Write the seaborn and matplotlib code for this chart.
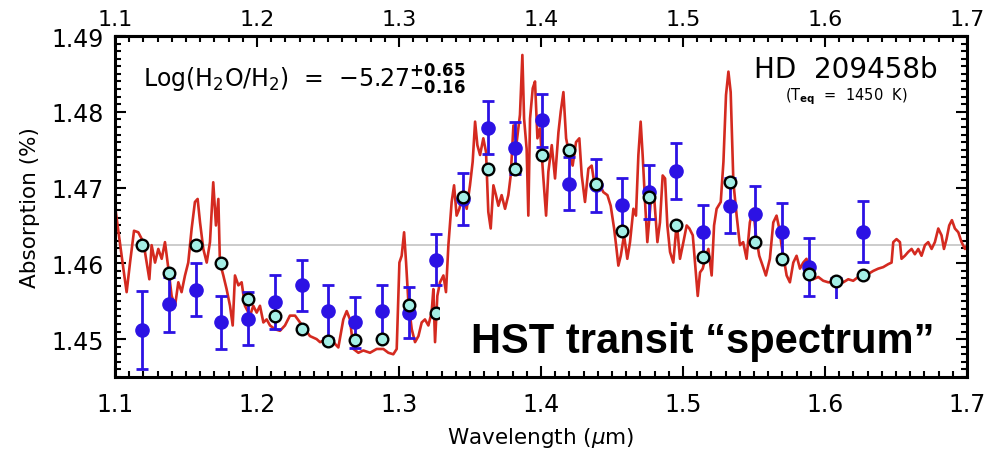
import matplotlib
matplotlib.use("Agg")
import matplotlib.pyplot as plt
from matplotlib.patches import Rectangle
from matplotlib.ticker import MultipleLocator, FixedLocator, FormatStrFormatter
import seaborn as sns

# binned HST points (wavelength in micron, absorption in %)
bin_wl = [1.119, 1.138, 1.157, 1.175, 1.194, 1.213, 1.232, 1.250, 1.269, 1.288,
          1.307, 1.326, 1.345, 1.363, 1.382, 1.401, 1.420, 1.439, 1.457, 1.476,
          1.495, 1.514, 1.533, 1.551, 1.570, 1.589, 1.608, 1.627]
hst_abs = [1.4512, 1.4546, 1.4565, 1.4522, 1.4527, 1.4549, 1.4571, 1.4537, 1.4522, 1.4537,
           1.4535, 1.4605, 1.4685, 1.4779, 1.4752, 1.4789, 1.4705, 1.4703, 1.4677, 1.4694,
           1.4722, 1.4641, 1.4676, 1.4665, 1.4642, 1.4595, 1.4543, 1.4642]
hst_err = [0.0051, 0.0036, 0.0035, 0.0035, 0.0035, 0.0035, 0.0034, 0.0035, 0.0034, 0.0035,
           0.0034, 0.0034, 0.0034, 0.0035, 0.0034, 0.0035, 0.0035, 0.0035, 0.0036, 0.0036,
           0.0037, 0.0036, 0.0036, 0.0037, 0.0037, 0.0038, 0.0037, 0.0040]
model_binned = [1.4624, 1.4587, 1.4624, 1.4601, 1.4553, 1.4530, 1.4513, 1.4498, 1.4499, 1.4500,
                1.4545, 1.4535, 1.4687, 1.4724, 1.4724, 1.4743, 1.4749, 1.4705, 1.4643, 1.4687,
                1.4651, 1.4609, 1.4707, 1.4628, 1.4606, 1.4586, 1.4577, 1.4584]

# best-fit model spectrum
model_wl = [
    1.1000, 1.1059, 1.1082, 1.1106, 1.1134, 1.1164, 1.1200, 1.1223, 1.1242, 1.1258,
    1.1282, 1.1305, 1.1329, 1.1352, 1.1376, 1.1399, 1.1423, 1.1446, 1.1469, 1.1493,
    1.1516, 1.1540, 1.1563, 1.1582, 1.1599, 1.1622, 1.1646, 1.1669, 1.1692, 1.1711,
    1.1728, 1.1739, 1.1763, 1.1786, 1.1810, 1.1829, 1.1845, 1.1869, 1.1892, 1.1915,
    1.1951, 1.1974, 1.1998, 1.2021, 1.2045, 1.2068, 1.2092, 1.2127, 1.2162, 1.2197,
    1.2232, 1.2268, 1.2303, 1.2338, 1.2373, 1.2420,
    1.2444, 1.2491, 1.2538, 1.2573, 1.2608, 1.2632, 1.2655, 1.2679, 1.2714, 1.2749,
    1.2796, 1.2843, 1.2890, 1.2925, 1.2960, 1.2984, 1.3003, 1.3019, 1.3036, 1.3050,
    1.3066, 1.3090, 1.3113, 1.3137, 1.3160, 1.3183, 1.3207, 1.3230, 1.3242, 1.3254,
    1.3270, 1.3289, 1.3313, 1.3331, 1.3348, 1.3371, 1.3388, 1.3406, 1.3425, 1.3449,
    1.3477, 1.3500, 1.3519, 1.3536, 1.3552, 1.3571, 1.3594, 1.3613, 1.3629, 1.3646,
    1.3665, 1.3683, 1.3700, 1.3723, 1.3747, 1.3770, 1.3787, 1.3806, 1.3829, 1.3852,
    1.3869, 1.3881, 1.3899, 1.3911,
    1.3923, 1.3942, 1.3958, 1.3975, 1.3993, 1.4017, 1.4036, 1.4052, 1.4076, 1.4099,
    1.4123, 1.4139, 1.4158, 1.4177, 1.4200, 1.4223, 1.4247, 1.4270, 1.4287, 1.4310,
    1.4334, 1.4357, 1.4381, 1.4416, 1.4439, 1.4468, 1.4491, 1.4515, 1.4529, 1.4545,
    1.4562, 1.4585, 1.4608, 1.4627, 1.4651, 1.4669, 1.4686, 1.4702, 1.4716, 1.4733,
    1.4749, 1.4773, 1.4796, 1.4820, 1.4838, 1.4857, 1.4874, 1.4890, 1.4909, 1.4932,
    1.4956, 1.4979, 1.5003, 1.5026, 1.5045, 1.5069, 1.5085, 1.5104, 1.5120, 1.5139,
    1.5162, 1.5179, 1.5202, 1.5219, 1.5237, 1.5266, 1.5285, 1.5303, 1.5320, 1.5336,
    1.5355, 1.5378,
    1.5401, 1.5424, 1.5448, 1.5471, 1.5495, 1.5514, 1.5537, 1.5561, 1.5584, 1.5612,
    1.5636, 1.5659, 1.5678, 1.5694, 1.5730, 1.5753, 1.5777, 1.5800, 1.5824, 1.5847,
    1.5870, 1.5894, 1.5917, 1.5953, 1.5988, 1.6023, 1.6058, 1.6093, 1.6129, 1.6164,
    1.6199, 1.6234, 1.6270, 1.6305, 1.6340, 1.6375, 1.6410, 1.6446, 1.6469, 1.6481,
    1.6504, 1.6528, 1.6539, 1.6563, 1.6586, 1.6610, 1.6633, 1.6657, 1.6680, 1.6704,
    1.6727, 1.6751, 1.6774, 1.6798, 1.6821, 1.6838, 1.6856, 1.6875, 1.6894, 1.6915,
    1.6939, 1.6962, 1.6986, 1.7000,
]
model_abs = [
    1.4676, 1.4593, 1.4562, 1.4601, 1.4643, 1.4641, 1.4628, 1.4601, 1.4579, 1.4624,
    1.4601, 1.4619, 1.4606, 1.4628, 1.4593, 1.4557, 1.4544, 1.4575, 1.4562, 1.4584,
    1.4601, 1.4646, 1.4681, 1.4685, 1.4654, 1.4619, 1.4601, 1.4628, 1.4707, 1.4650,
    1.4685, 1.4601, 1.4584, 1.4566, 1.4544, 1.4518, 1.4584, 1.4571, 1.4575, 1.4544,
    1.4531, 1.4544, 1.4535, 1.4544, 1.4522, 1.4526, 1.4518, 1.4513, 1.4511, 1.4518,
    1.4531, 1.4531, 1.4522, 1.4513, 1.4504, 1.4500,
    1.4496, 1.4500, 1.4496, 1.4489, 1.4526, 1.4537, 1.4526, 1.4487, 1.4482, 1.4485,
    1.4482, 1.4487, 1.4487, 1.4482, 1.4480, 1.4487, 1.4601, 1.4610, 1.4641, 1.4601,
    1.4549, 1.4513, 1.4496, 1.4504, 1.4522, 1.4526, 1.4518, 1.4535, 1.4566, 1.4496,
    1.4557, 1.4575, 1.4584, 1.4562, 1.4624, 1.4681, 1.4703, 1.4663, 1.4672, 1.4690,
    1.4672, 1.4703, 1.4734, 1.4787, 1.4756, 1.4743, 1.4765, 1.4747, 1.4668, 1.4646,
    1.4703, 1.4690, 1.4676, 1.4690, 1.4672, 1.4690, 1.4716, 1.4782, 1.4760, 1.4796,
    1.4875, 1.4791, 1.4751, 1.4663,
    1.4791, 1.4831, 1.4840, 1.4765, 1.4778, 1.4712, 1.4663, 1.4721, 1.4756, 1.4712,
    1.4773, 1.4800, 1.4826, 1.4765, 1.4743, 1.4729, 1.4760, 1.4765, 1.4716, 1.4681,
    1.4725, 1.4729, 1.4699, 1.4703, 1.4694, 1.4690, 1.4676, 1.4646, 1.4624, 1.4597,
    1.4610, 1.4637, 1.4606, 1.4628, 1.4672, 1.4663, 1.4743, 1.4787, 1.4743, 1.4681,
    1.4628, 1.4681, 1.4690, 1.4628, 1.4654, 1.4716, 1.4712, 1.4650, 1.4615, 1.4601,
    1.4654, 1.4606, 1.4628, 1.4650, 1.4646, 1.4637, 1.4601, 1.4557, 1.4588, 1.4593,
    1.4610, 1.4619, 1.4584, 1.4650, 1.4672, 1.4681, 1.4734, 1.4822, 1.4853, 1.4826,
    1.4707, 1.4663,
    1.4624, 1.4628, 1.4606, 1.4654, 1.4672, 1.4637, 1.4610, 1.4597, 1.4584, 1.4606,
    1.4654, 1.4663, 1.4646, 1.4624, 1.4584, 1.4575, 1.4601, 1.4610, 1.4593, 1.4601,
    1.4606, 1.4584, 1.4579, 1.4582, 1.4577, 1.4575, 1.4575, 1.4573, 1.4575, 1.4579,
    1.4577, 1.4582, 1.4584, 1.4586, 1.4590, 1.4593, 1.4595, 1.4599, 1.4601, 1.4628,
    1.4632, 1.4628, 1.4606, 1.4610, 1.4615, 1.4619, 1.4612, 1.4619, 1.4610, 1.4624,
    1.4628, 1.4619, 1.4628, 1.4646, 1.4637, 1.4619, 1.4632, 1.4650, 1.4657, 1.4646,
    1.4641, 1.4628, 1.4619, 1.4624,
]
flat_level = 1.4624
wl_ticks = [1.1, 1.2, 1.3, 1.4, 1.5, 1.6, 1.7]

sns.set_style("ticks")
plt.rcParams['font.family'] = 'DejaVu Sans'
plt.rcParams['mathtext.fontset'] = 'dejavusans'
plt.rcParams['text.color'] = 'black'
plt.rcParams['axes.labelcolor'] = 'black'
plt.rcParams['xtick.color'] = 'black'
plt.rcParams['ytick.color'] = 'black'

fig = plt.figure(figsize=(9.87, 4.52), dpi=100)
ax = fig.add_axes([0.1165, 0.1637, 0.8632, 0.7544])

ax.axhline(flat_level, color='#c8c8c8', lw=1.3, zorder=1)
sns.lineplot(x=model_wl, y=model_abs, ax=ax, color='#d42a20', lw=1.9,
             sort=False, estimator=None, zorder=2)
ax.errorbar(bin_wl, hst_abs, yerr=hst_err, fmt='o', color='#2c12e4', ms=9.5,
            elinewidth=2.0, capsize=4.5, capthick=2.0, zorder=3)
sns.scatterplot(x=bin_wl, y=model_binned, ax=ax, s=70, color='#a4efe6',
                edgecolor='black', linewidth=1.7, zorder=4)

ax.set_xlim(1.1, 1.7)
ax.set_ylim(1.445, 1.49)
ax.xaxis.set_major_locator(FixedLocator(wl_ticks))
ax.xaxis.set_minor_locator(MultipleLocator(0.01))
ax.yaxis.set_major_locator(MultipleLocator(0.01))
ax.yaxis.set_minor_locator(MultipleLocator(0.001))
ax.xaxis.set_major_formatter(FormatStrFormatter('%.1f'))
ax.yaxis.set_major_formatter(FormatStrFormatter('%.2f'))
ax.tick_params(which='both', direction='in', top=True, right=True, width=1.5,
               labelsize=17, color='black', labelcolor='black')
ax.tick_params(which='major', length=8)
ax.tick_params(which='minor', length=4)
ax.tick_params(axis='x', pad=11)
ax.tick_params(axis='y', pad=8)
for s in ax.spines.values():
    s.set_linewidth(2.2)
    s.set_color('black')

# labels along the top edge
secax = ax.secondary_xaxis('top')
secax.xaxis.set_major_locator(FixedLocator(wl_ticks))
secax.xaxis.set_major_formatter(FormatStrFormatter('%.1f'))
secax.tick_params(direction='in', length=0, pad=5, labelsize=16, labelcolor='black')
secax.spines['top'].set_linewidth(2.2)

ax.set_xlabel(r'Wavelength ($\mu$m)', fontsize=15.5, labelpad=6)
ax.set_ylabel('Absorption (%)', fontsize=15.5, labelpad=8)

ax.text(0.033, 0.874, r'Log(H$_2$O/H$_2$)  =  $-$5.27$^{\mathbf{+0.65}}_{\mathbf{-0.16}}$',
        transform=ax.transAxes, fontsize=17, ha='left', va='center', zorder=6)
ax.text(0.965, 0.902, 'HD  209458b', transform=ax.transAxes, fontsize=20,
        ha='right', va='center', zorder=6)
ax.text(0.859, 0.826, r'(T$_{\mathbf{eq}}$  =  1450  K)', transform=ax.transAxes,
        fontsize=10.5, ha='center', va='center', zorder=6)

# white panel behind the big caption
ax.add_patch(Rectangle((0.381, 0.035), 0.595, 0.195, transform=ax.transAxes,
                       facecolor='white', edgecolor='none', zorder=8))
ax.text(0.962, 0.073, 'HST transit \u201cspectrum\u201d', transform=ax.transAxes,
        fontsize=30, fontweight='bold', family='Liberation Sans',
        ha='right', va='baseline', zorder=10)

fig.savefig('out.png', dpi=100)
